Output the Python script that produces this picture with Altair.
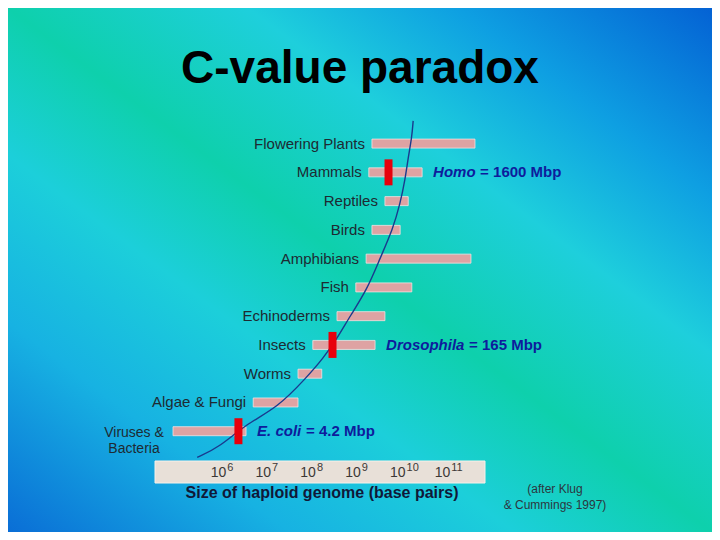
import altair as alt
import pandas as pd

# ---------------- data ----------------
groups = ["Flowering Plants", "Mammals", "Reptiles", "Birds", "Amphibians", "Fish",
          "Echinoderms", "Insects", "Worms", "Algae & Fungi", "Viruses &\nBacteria"]
# log10 of haploid genome size (bp): low / high end of each range
log_low = [9.34, 9.27, 9.63, 9.34, 9.21, 8.98, 8.56, 8.02, 7.69, 6.69, 4.90]
log_high = [11.64, 10.46, 10.15, 9.97, 11.55, 10.23, 9.63, 9.41, 8.22, 7.69, 6.53]

# reference organisms
ref_group = ["Mammals", "Insects", "Viruses &\nBacteria"]
ref_name = ["Homo", "Drosophila", "E. coli"]
ref_value = ["= 1600 Mbp", "= 165 Mbp", "= 4.2 Mbp"]
ref_log = [9.71, 8.46, 6.36]

# the trend curve: (log10 size, row position)
curve_log = [5.44, 5.95, 6.53, 7.24, 7.87, 8.25, 8.56, 8.85, 9.23, 9.52, 9.81,
             9.97, 10.08, 10.15, 10.23, 10.26]
curve_row = [10.91, 10.54, 9.75, 9.17, 8.15, 7.47, 6.78, 6.00, 5.08, 3.99, 2.96,
             2.08, 1.26, 0.47, -0.21, -0.79]

tick_exp = [6, 7, 8, 9, 10, 11]

title_text = "C-value paradox"
axis_title = "Size of haploid genome (base pairs)"
credit_text = "(after Klug\n & Cummings 1997)"

# ---------------- tables ----------------
rows = pd.DataFrame({"group": groups, "lo": log_low, "hi": log_high,
                     "row": list(range(len(groups)))})
single = rows[~rows["group"].str.contains("\n")]
multi = rows[rows["group"].str.contains("\n")]
row_of = dict(zip(groups, range(len(groups))))
refs = pd.DataFrame({"group": ref_group, "name": ref_name, "value": ref_value,
                     "log": ref_log})
refs["row"] = refs["group"].map(row_of)
refs["hi"] = refs["group"].map(dict(zip(groups, log_high)))
curve = pd.DataFrame({"log": curve_log, "row": curve_row,
                      "i": list(range(len(curve_log)))})
ticks = pd.DataFrame({"e": tick_exp, "base": ["10"] * len(tick_exp),
                      "sup": [str(t) for t in tick_exp]})
one = pd.DataFrame({"a": [0]})

# ---------------- styles ----------------
W, H = 704, 524
FONT = "Liberation Sans"
xs = alt.Scale(domain=[1.217, 16.93], nice=False, zero=False)
ys = alt.Scale(domain=[-4.54, 13.33], nice=False, zero=False, reverse=True)


def X(f):
    return alt.X(f, type="quantitative", scale=xs, axis=None)


def Y(f):
    return alt.Y(f, type="quantitative", scale=ys, axis=None)


bg = alt.Chart(one).mark_rect(
    color=alt.LinearGradient(
        gradient="linear", x1=1, y1=0, x2=0, y2=1,
        stops=[alt.GradientStop(color="#0462d4", offset=0.0),
               alt.GradientStop(color="#0e9fe2", offset=0.18),
               alt.GradientStop(color="#1ecfdc", offset=0.33),
               alt.GradientStop(color="#0ed0ac", offset=0.5),
               alt.GradientStop(color="#1ccfda", offset=0.64),
               alt.GradientStop(color="#17b2e2", offset=0.8),
               alt.GradientStop(color="#0a6ed6", offset=1.0)])
).encode(x=alt.value(0), x2=alt.value(W), y=alt.value(0), y2=alt.value(H))

title = alt.Chart(one).mark_text(
    text=title_text, font=FONT, fontSize=46, fontWeight="bold", color="#000000",
    align="center", baseline="alphabetic"
).encode(x=alt.value(352), y=alt.value(75))

bars = alt.Chart(rows).mark_bar(
    size=9, orient="horizontal", color="#dea3a3", stroke="#f3e2e2", strokeWidth=0.8
).encode(x=X("lo"), x2="hi", y=Y("row"))

labels = alt.Chart(single).mark_text(
    align="right", baseline="middle", dx=-7, font=FONT, fontSize=15, color="#1e2a32"
).encode(x=X("lo"), y=Y("row"), text="group:N")

labels_multi = alt.Chart(multi).mark_text(
    align="center", baseline="middle", dx=-39, dy=2, font=FONT, fontSize=14,
    color="#1e2a32", lineBreak="\n", lineHeight=16
).encode(x=X("lo"), y=Y("row"), text="group:N")

line = alt.Chart(curve).mark_line(
    color="#1a3a8e", strokeWidth=1.4, interpolate="basis"
).encode(x=X("log"), y=Y("row"), order="i:Q")

markers = alt.Chart(refs).mark_tick(
    orient="vertical", thickness=8, size=26, color="#e8000c", opacity=1
).encode(x=X("log"), y=Y("row"))

NAME_W = {"Homo": 43, "Drosophila": 79, "E. coli": 45}
ann_layers = []
for nm in ref_name:
    sub = refs[refs["name"] == nm]
    ann_layers.append(alt.Chart(sub).mark_text(
        align="left", baseline="middle", dx=11, font=FONT, fontSize=15,
        fontWeight="bold", fontStyle="italic", color="#0e1c9c"
    ).encode(x=X("hi"), y=Y("row"), text="name:N"))
    ann_layers.append(alt.Chart(sub).mark_text(
        align="left", baseline="middle", dx=11 + NAME_W[nm] + 4, font=FONT,
        fontSize=15, fontWeight="bold", color="#0e1c9c"
    ).encode(x=X("hi"), y=Y("row"), text="value:N"))

axis_box = alt.Chart(one).mark_rect(
    color="#e8e0d8", stroke="#f7f1ea", strokeWidth=1
).encode(x=alt.value(147), x2=alt.value(477), y=alt.value(453), y2=alt.value(475))

tick_base = alt.Chart(ticks).mark_text(
    align="right", baseline="alphabetic", dx=4, font=FONT, fontSize=14, color="#3c3836"
).encode(x=X("e"), y=alt.value(469), text="base:N")

tick_sup = alt.Chart(ticks).mark_text(
    align="left", baseline="alphabetic", dx=5, font=FONT, fontSize=11, color="#3c3836"
).encode(x=X("e"), y=alt.value(463), text="sup:N")

xtitle = alt.Chart(one).mark_text(
    text=axis_title, font=FONT, fontSize=16, fontWeight="bold", color="#101838",
    align="center", baseline="middle"
).encode(x=alt.value(314), y=alt.value(485))

credit = alt.Chart(one).mark_text(
    text=credit_text, font=FONT, fontSize=12, color="#2c3640",
    align="center", baseline="middle", lineBreak="\n", lineHeight=16
).encode(x=alt.value(547), y=alt.value(481))

chart = alt.layer(
    bg, title, bars, labels, labels_multi, line, markers, *ann_layers,
    axis_box, tick_base, tick_sup, xtitle, credit
).properties(
    width=W, height=H, padding=0, autosize=alt.AutoSizeParams(type="none")
).configure_view(stroke=None)

chart.save("out.html", embed_options={"renderer": "svg", "actions": False})
